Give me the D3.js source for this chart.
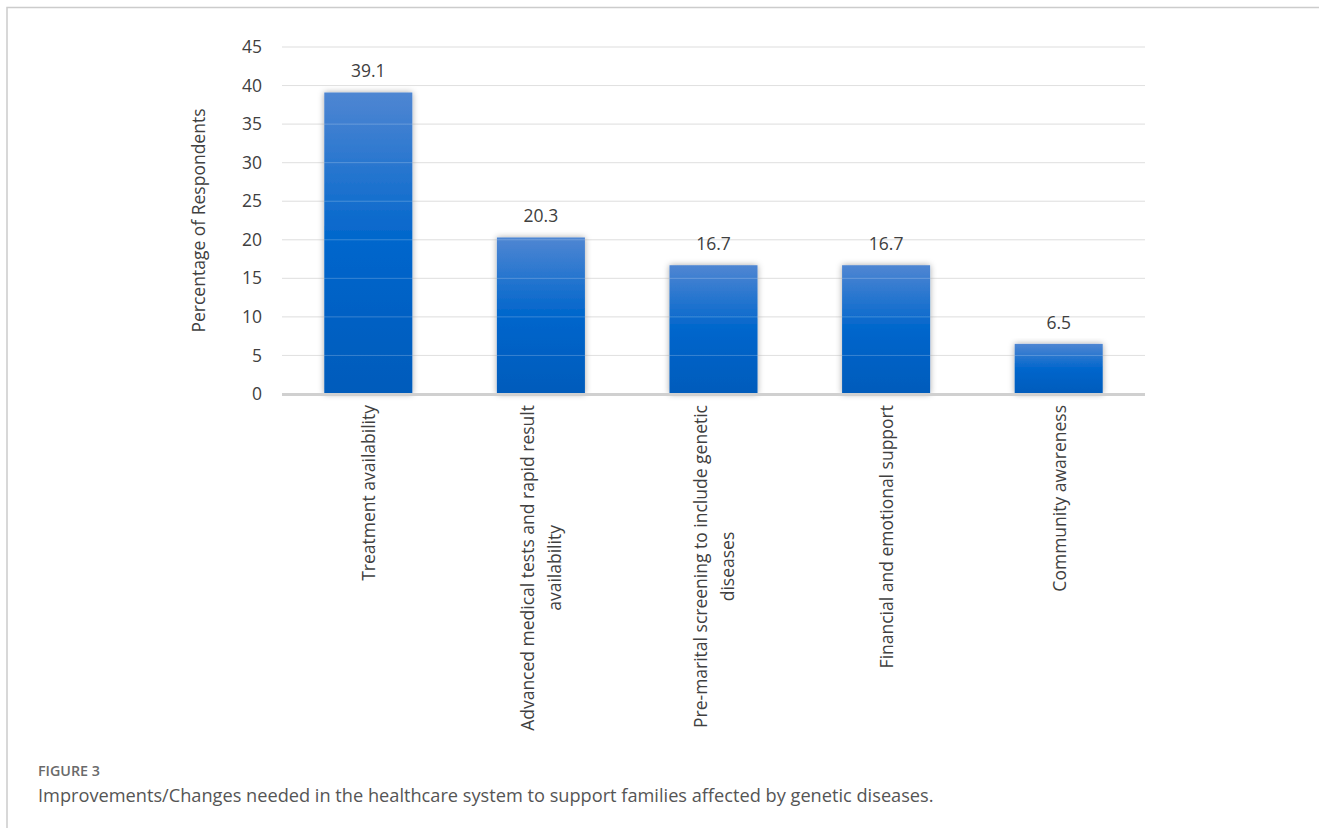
<!DOCTYPE html>
<html>
<head>
<meta charset="utf-8">
<script src="https://cdn.jsdelivr.net/npm/d3@7"></script>
<style>
  body { margin: 0; background: #fff; }
  svg { display: block; }
</style>
</head>
<body>
<svg id="chart" width="1319" height="828"></svg>
<script>
// data
const categories = [
  ["Treatment availability"],
  ["Advanced medical tests and rapid result", "availability"],
  ["Pre-marital screening to include genetic", "diseases"],
  ["Financial and emotional support"],
  ["Community awareness"]
];
const values = [39.1, 20.3, 16.7, 16.7, 6.5];
const yTicks = [0, 5, 10, 15, 20, 25, 30, 35, 40, 45];
const yTitle = "Percentage of Respondents";
const figLabel = "FIGURE 3";
const caption = "Improvements/Changes needed in the healthcare system to support families affected by genetic diseases.";

const svg = d3.select("#chart");
const font = "'Open Sans', 'Noto Sans', sans-serif";
const fs = 17.5;

// frame of the figure box
svg.append("path")
  .attr("d", "M7,828 V7.5 H1319")
  .attr("fill", "none")
  .attr("stroke", "#cccccc")
  .attr("stroke-width", 1.5);

const plotL = 282, plotR = 1145, plotT = 47, plotB = 394;

const x = d3.scaleBand()
  .domain(d3.range(values.length))
  .range([plotL, plotR])
  .paddingInner(0.49)
  .paddingOuter(0.245);

const y = d3.scaleLinear().domain([0, 45]).range([plotB, plotT]);

const defs = svg.append("defs");
const grad = defs.append("linearGradient")
  .attr("id", "barGrad").attr("x1", 0).attr("y1", 0).attr("x2", 0).attr("y2", 1);
grad.append("stop").attr("offset", "0%").attr("stop-color", "#4f86d2");
grad.append("stop").attr("offset", "50%").attr("stop-color", "#0066cc");
grad.append("stop").attr("offset", "100%").attr("stop-color", "#005bbb");

const shadow = defs.append("filter").attr("id", "glow")
  .attr("x", "-20%").attr("y", "-10%").attr("width", "140%").attr("height", "120%");
shadow.append("feGaussianBlur").attr("in", "SourceAlpha").attr("stdDeviation", 3).attr("result", "b");
shadow.append("feFlood").attr("flood-color", "#000").attr("flood-opacity", 0.35);
shadow.append("feComposite").attr("in2", "b").attr("operator", "in").attr("result", "s");
const merge = shadow.append("feMerge");
merge.append("feMergeNode").attr("in", "s");
merge.append("feMergeNode").attr("in", "SourceGraphic");

// gridlines
svg.append("g")
  .selectAll("line")
  .data(yTicks.filter(d => d > 0))
  .join("line")
  .attr("x1", plotL).attr("x2", plotR)
  .attr("y1", d => y(d)).attr("y2", d => y(d))
  .attr("stroke", "#d9d9d9").attr("stroke-width", 1);

// y axis labels
const yAxis = svg.append("g")
  .attr("transform", `translate(${plotL},0)`)
  .call(d3.axisLeft(y).tickValues(yTicks).tickSize(0).tickPadding(20));
yAxis.select(".domain").remove();
yAxis.selectAll("text")
  .attr("font-family", font).attr("font-size", fs).attr("fill", "#404040");

// bars
svg.append("g")
  .selectAll("rect")
  .data(values)
  .join("rect")
  .attr("x", (d, i) => x(i))
  .attr("y", d => y(d))
  .attr("width", x.bandwidth())
  .attr("height", d => plotB - y(d))
  .attr("fill", "url(#barGrad)")
  .attr("filter", "url(#glow)");

// faint gridlines showing through the bars
svg.append("g")
  .selectAll("line")
  .data(yTicks.filter(d => d > 0))
  .join("line")
  .attr("x1", plotL).attr("x2", plotR)
  .attr("y1", d => y(d)).attr("y2", d => y(d))
  .attr("stroke", "#ffffff").attr("stroke-opacity", 0.22);

// zero line
svg.append("line")
  .attr("x1", plotL).attr("x2", plotR)
  .attr("y1", plotB + 0.5).attr("y2", plotB + 0.5)
  .attr("stroke", "#d0d0d0").attr("stroke-width", 3);

// value labels
svg.append("g")
  .selectAll("text")
  .data(values)
  .join("text")
  .attr("x", (d, i) => x(i) + x.bandwidth() / 2)
  .attr("y", d => y(d) - 15)
  .attr("text-anchor", "middle")
  .attr("font-family", font).attr("font-size", fs).attr("fill", "#404040")
  .text(d => d.toFixed(1));

// category labels, rotated and wrapped
const lineGap = 27;
categories.forEach((lines, i) => {
  const cx = x(i) + x.bandwidth() / 2;
  const g = svg.append("g");
  const texts = lines.map((s, k) => g.append("text")
    .attr("text-anchor", "middle")
    .attr("font-family", font).attr("font-size", fs).attr("fill", "#404040")
    .text(s));
  const maxLen = d3.max(texts, t => t.node().getComputedTextLength());
  const midY = 405 + maxLen / 2;
  texts.forEach((t, k) => {
    const off = (k - (lines.length - 1) / 2) * lineGap + 7;
    t.attr("transform", `translate(${cx + off},${midY}) rotate(-90)`);
  });
});

// y axis title
svg.append("text")
  .attr("transform", `translate(205,${(plotT + plotB) / 2}) rotate(-90)`)
  .attr("text-anchor", "middle")
  .attr("font-family", font).attr("font-size", fs).attr("fill", "#404040")
  .text(yTitle);

// caption
svg.append("text")
  .attr("x", 38).attr("y", 776)
  .attr("font-family", font).attr("font-size", 14.3).attr("font-weight", 600)
  .attr("fill", "#6a6a6a")
  .text(figLabel);
svg.append("text")
  .attr("x", 38).attr("y", 802)
  .attr("font-family", font).attr("font-size", 18.2)
  .attr("fill", "#555555")
  .text(caption);
</script>
</body>
</html>
